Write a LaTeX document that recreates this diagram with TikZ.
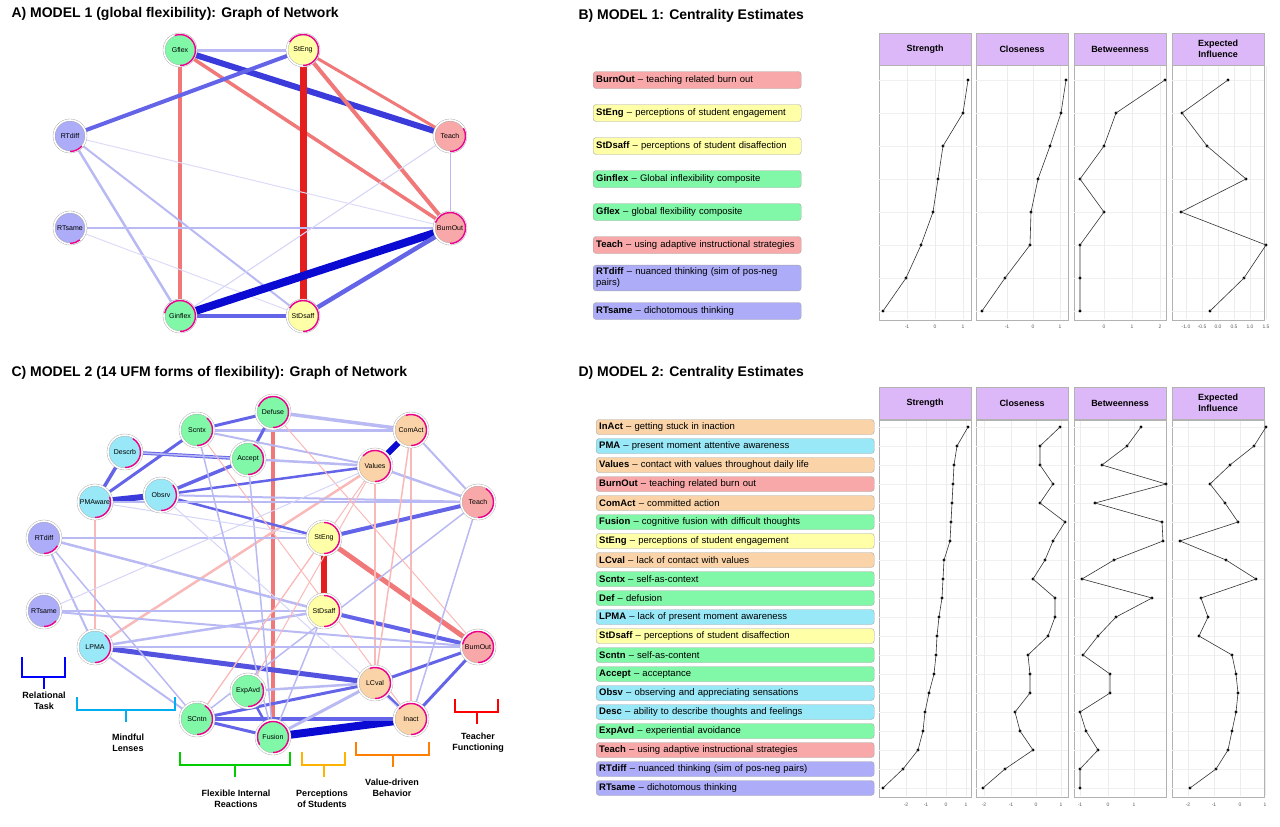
\documentclass[tikz,border=0pt]{standalone}
\usepackage{fontspec}
\setmainfont{Liberation Sans}
\usetikzlibrary{backgrounds}
\definecolor{cred}{RGB}{248,168,168}
\definecolor{cyel}{RGB}{255,255,168}
\definecolor{cgrn}{RGB}{128,248,168}
\definecolor{clav}{RGB}{172,172,248}
\definecolor{ccya}{RGB}{152,232,248}
\definecolor{corg}{RGB}{250,212,168}
\definecolor{chead}{RGB}{221,184,248}
\definecolor{bdark}{RGB}{10,10,210}
\definecolor{bmed}{RGB}{100,100,232}
\definecolor{blight}{RGB}{185,185,244}
\definecolor{rdark}{RGB}{228,30,30}
\definecolor{rmed}{RGB}{240,120,120}
\definecolor{rlight}{RGB}{250,185,185}
\tikzset{
  var/.style={circle, minimum size=32pt, inner sep=0pt, draw=gray!70, double=white, double distance=1.6pt, font=\fontsize{7}{8}\selectfont},
  edge/.style={line width=#1},
  title/.style={anchor=west, font=\bfseries\fontsize{14}{16}\selectfont},
  lbl/.style={rounded corners=3pt, draw=gray!70, anchor=west, minimum height=17pt, inner sep=3pt, font=\fontsize{9.5}{11}\selectfont},
  head/.style={draw=gray!60, fill=chead, font=\bfseries\fontsize{9}{10.5}\selectfont, align=center},
  prof/.style={black!80, line width=0.6pt},
  tick/.style={font=\fontsize{5}{6}\selectfont, text=gray!70!black},
  grp/.style={font=\bfseries\fontsize{9}{11}\selectfont, align=center}
}
\newcommand{\profile}[4]{%
  \foreach \x [count=\i from 0] in {#4} {\coordinate (p\i) at (\x,#2+#3*\i); \fill (p\i) circle (1.7);}
  \draw[prof] (p0) \foreach \i in {1,...,#1} {-- (p\i)};}
\newcommand{\grpbrace}[5]{% x1, x2, top, mid, colour
  \draw[#5, line width=2pt] (#1,#3) -- (#1,#4) -- (#2,#4) -- (#2,#3)
    ({(#1+#2)/2},#4) -- ++(0,12);}
\begin{document}
\begin{tikzpicture}[x=1pt, y=-1pt]
\useasboundingbox (0,0) rectangle (1280,827);

% ---- A) model 1 network
\node[title] (tA) at (8,14) {A) MODEL 1 (global flexibility): Graph of Network};
\node[var, fill=cgrn] (Gflex) at (180,50) {Gflex};
\node[var, fill=cyel] (StEng) at (303,50) {StEng};
\node[var, fill=clav] (RTdiff) at (70,136) {RTdiff};
\node[var, fill=cred] (Teach) at (450,136) {Teach};
\node[var, fill=clav] (RTsame) at (70,228) {RTsame};
\node[var, fill=cred] (BurnOut) at (450,228) {BurnOut};
\node[var, fill=cgrn] (Ginflex) at (180,316) {Ginflex};
\node[var, fill=cyel] (StDsaff) at (303,316) {StDsaff};
\begin{pgfonlayer}{background}
  \foreach \a/\b/\c/\w in {Gflex/StEng/blight/3, Gflex/Teach/bdark!80!white/6, Gflex/Ginflex/rmed/4,
      Gflex/BurnOut/rmed/3.5, StEng/StDsaff/rdark/7, StEng/Teach/rmed/3, StEng/BurnOut/rmed/4,
      StEng/RTdiff/bmed/4, RTdiff/Ginflex/blight/2.5, RTdiff/StDsaff/blight/2, RTsame/BurnOut/blight/2.5,
      RTsame/StDsaff/blight!50/1, Ginflex/BurnOut/bdark/8, Ginflex/StDsaff/bmed/3.5, StDsaff/BurnOut/bmed/4.5,
      Teach/BurnOut/blight/1, Teach/Ginflex/blight!60/1, RTdiff/BurnOut/blight!50/1}
    \draw[\c, edge=\w pt] (\a) -- (\b);
\end{pgfonlayer}

% ---- C) model 2 network
\node[title] (tC) at (8,373) {C) MODEL 2 (14 UFM forms of flexibility): Graph of Network};
\foreach \n/\x/\y/\c in {Defuse/273/412/cgrn, Scntx/197/430/cgrn, ComAct/411/430/corg, Descrb/125/452/ccya,
    Accept/248/459/cgrn, Values/375/466/corg, PMAware/95/502/ccya, Obsrv/161/495/ccya, Teach2/478/502/cred,
    RTdiff2/44/538/clav, StEng2/324/538/cyel, RTsame2/44/611/clav, StDsaff2/324/611/cyel, LPMA/95/647/ccya,
    BurnOut2/478/647/cred, LCval/375/683/corg, ExpAvd/248/691/cgrn, SCntn/197/719/cgrn, Inact/411/719/corg,
    Fusion/273/737/cgrn}
  \node[var, fill=\c, minimum size=34pt] (\n) at (\x,\y) {};
\foreach \n/\t in {Defuse/Defuse, Scntx/Scntx, ComAct/ComAct, Descrb/Descrb, Accept/Accept, Values/Values,
    PMAware/PMAware, Obsrv/Obsrv, Teach2/Teach, RTdiff2/RTdiff, StEng2/StEng, RTsame2/RTsame, StDsaff2/StDsaff,
    LPMA/LPMA, BurnOut2/BurnOut, LCval/LCval, ExpAvd/ExpAvd, SCntn/SCntn, Inact/Inact, Fusion/Fusion}
  \node[font=\fontsize{7}{8}\selectfont] at (\n) {\t};
\begin{pgfonlayer}{background}
  \foreach \a/\b/\c/\w in {Fusion/Inact/bdark/8, ComAct/Values/bdark/6, PMAware/Obsrv/bdark!80!white/6,
      Defuse/Fusion/rmed/4, StEng2/StDsaff2/rdark/6, StEng2/BurnOut2/rmed/5, StEng2/Teach2/bmed/4,
      StDsaff2/BurnOut2/bmed/4, LPMA/LCval/bdark!70!white/5, SCntn/Inact/bmed/4, LPMA/Values/rlight/2.5,
      PMAware/LPMA/rlight/2.5, Values/LCval/rlight/2.5, ComAct/Inact/rlight/2.5, RTdiff2/StEng2/blight/2.5,
      RTdiff2/StDsaff2/blight/2.5, Descrb/Accept/bmed/3.5, Descrb/PMAware/bmed/3.5, Scntx/PMAware/bmed/3,
      Obsrv/Accept/bmed/3.5, Obsrv/Values/bmed/2.5, Defuse/ComAct/blight/3.5, Scntx/ComAct/blight/3,
      Defuse/Accept/bmed/3, Scntx/Defuse/bmed/3, LPMA/StDsaff2/blight/2.5, LCval/BurnOut2/bmed/3,
      Inact/BurnOut2/bmed/3, LCval/Inact/bmed/3, SCntn/LCval/bmed/3, ExpAvd/LCval/blight/2.5,
      Teach2/Values/blight/2.5, Teach2/ComAct/blight/2, Obsrv/StEng2/bmed/2.5, RTdiff2/LPMA/blight/2,
      RTsame2/BurnOut2/blight/2, LPMA/BurnOut2/blight/2, SCntn/Fusion/bmed/3, LPMA/SCntn/blight/2,
      PMAware/Teach2/blight/2, Obsrv/Teach2/blight/2, Scntx/Values/blight/2, Accept/Values/blight/2.5,
      Fusion/LCval/blight/3, ExpAvd/Fusion/bmed/2.5, Teach2/SCntn/blight/1.5, StDsaff2/Fusion/blight/1.5,
      RTdiff2/SCntn/blight/1.5, RTsame2/StDsaff2/blight/1.5, Defuse/BurnOut2/rlight/1, Scntx/Inact/rlight/1,
      Values/SCntn/rlight/1, ComAct/LCval/rlight/1.5, Accept/Fusion/blight/1.5, Descrb/Values/blight/1.5,
      RTsame2/Values/blight!60/1, Obsrv/Inact/blight!60/1, Scntx/Fusion/blight/1.5, ExpAvd/Values/rlight/1,
      StEng2/SCntn/rlight/1, Teach2/Inact/blight/1.5, PMAware/StEng2/blight!60/1}
    \draw[\c, edge=\w pt] (\a) -- (\b);
\end{pgfonlayer}
% magenta rings
\foreach \n/\a in {Defuse/250, Scntx/140, ComAct/200, Descrb/150, Accept/160, Values/230, PMAware/110,
    Obsrv/130, Teach2/150, RTdiff2/60, StEng2/180, RTsame2/50, StDsaff2/180, LPMA/140, BurnOut2/260,
    LCval/200, ExpAvd/120, SCntn/150, Inact/230, Fusion/300,
    Gflex/200, StEng/240, RTdiff/50, Teach/120, RTsame/40, BurnOut/250, Ginflex/260, StDsaff/240}
  \draw[magenta, line width=1.4pt] (\n.center) ++(90:15.5) arc[start angle=90, end angle=90-\a, radius=15.5];
% groups
\grpbrace{22}{65}{657}{677}{blue}
\node[grp] (gRT) at (44,701) {Relational\\Task};
\grpbrace{77}{175}{697}{710}{cyan}
\node[grp] (gML) at (128,743) {Mindful\\Lenses};
\grpbrace{180}{290}{752}{765}{green!80!black}
\node[grp] (gFI) at (236,799) {Flexible Internal\\Reactions};
\grpbrace{302}{345}{752}{765}{orange!60!yellow}
\node[grp] (gPS) at (322,799) {Perceptions\\of Students};
\grpbrace{356}{429}{742}{755}{orange}
\node[grp] (gVD) at (392,788) {Value-driven\\Behavior};
\grpbrace{455}{498}{699}{712}{red}
\node[grp] (gTF) at (478,743) {Teacher\\Functioning};

% ---- B) centrality model 1
\node[title] (tB) at (575,16) {B) MODEL 1: Centrality Estimates};
\foreach \xa/\xb/\t in {879/971/Strength, 976/1068/Closeness, 1074/1166/Betweenness, 1172/1264/{Expected\\Influence}} {
  \draw[gray!60, fill=white] (\xa,65) rectangle (\xb,320);
  \foreach \r in {0,...,7} \draw[gray!12] (\xa,80+33*\r) -- (\xb,80+33*\r);
  \node[head, minimum width=92pt, minimum height=32pt] at ({(\xa+\xb)/2},49) {\t};
  \draw[gray!60, fill=white] (\xa,420) rectangle (\xb,797);
  \foreach \r in {0,...,19} \draw[gray!12] (\xa,427+19*\r) -- (\xb,427+19*\r);
  \node[head, minimum width=92pt, minimum height=32pt] at ({(\xa+\xb)/2},403) {\t};
}
\foreach \x/\t in {907/-1, 935/0, 963/1, 1007/-1, 1033/0, 1060/1, 1104/0, 1132/1, 1160/2,
    1186/-1.0, 1202/-0.5, 1218/0.0, 1234/0.5, 1250/1.0, 1266/1.5} {
  \draw[gray!15] (\x,66) -- (\x,319);
  \node[tick] at (\x,327) {\t};}
\foreach \x/\t in {906/-2, 926/-1, 946/0, 966/1, 984/-2, 1011/-1, 1036/0, 1061/1, 1080/-1, 1108/0, 1134/1,
    1188/-2, 1214/-1, 1240/0, 1265/1} {
  \draw[gray!15] (\x,421) -- (\x,796);
  \node[tick] at (\x,805) {\t};}
\profile{7}{80}{33}{968,963,943,938,933,921,906,883}
\profile{7}{80}{33}{1066,1061,1050,1038,1031,1030,1005,982}
\profile{7}{80}{33}{1165,1116,1104,1080,1104,1080,1080,1080}
\profile{7}{80}{33}{1228,1182,1207,1246,1181,1266,1244,1210}
\foreach \t/\d/\c [count=\i from 0] in {BurnOut/teaching related burn out/cred, StEng/perceptions of student engagement/cyel,
    StDsaff/perceptions of student disaffection/cyel, Ginflex/Global inflexibility composite/cgrn,
    Gflex/global flexibility composite/cgrn, Teach/using adaptive instructional strategies/cred,
    RTdiff/nuanced thinking (sim of pos-neg pairs)/clav, RTsame/dichotomous thinking/clav}
  \node[lbl, fill=\c, minimum width=208pt, text width=202pt] (b\i) at (593,80+33*\i) {\textbf{\t} -- \d};

% ---- D) centrality model 2
\node[title] (tD) at (575,373) {D) MODEL 2: Centrality Estimates};
\profile{19}{427}{19}{968,957,954,953,952,951,950,944,943,942,939,937,936,934,929,925,923,918,903,883}
\profile{19}{427}{19}{1060,1040,1040,1053,1040,1065,1053,1045,1033,1055,1055,1048,1028,1030,1030,1015,1020,1033,1005,983}
\profile{19}{427}{19}{1141,1127,1102,1166,1095,1162,1163,1114,1082,1152,1116,1098,1083,1110,1110,1080,1086,1098,1080,1080}
\profile{19}{427}{19}{1266,1254,1230,1210,1225,1238,1180,1226,1256,1201,1208,1199,1232,1236,1238,1236,1232,1228,1216,1190}
\foreach \t/\d/\c [count=\i from 0] in {InAct/getting stuck in inaction/corg, PMA/present moment attentive awareness/ccya,
    Values/contact with values throughout daily life/corg, BurnOut/teaching related burn out/cred,
    ComAct/committed action/corg, Fusion/cognitive fusion with difficult thoughts/cgrn,
    StEng/perceptions of student engagement/cyel, LCval/lack of contact with values/corg,
    Scntx/self-as-context/cgrn, Def/defusion/cgrn, LPMA/lack of present moment awareness/ccya,
    StDsaff/perceptions of student disaffection/cyel, Scntn/self-as-content/cgrn, Accept/acceptance/cgrn,
    Obsv/observing and appreciating sensations/ccya, Desc/ability to describe thoughts and feelings/ccya,
    ExpAvd/experiential avoidance/cgrn, Teach/using adaptive instructional strategies/cred,
    RTdiff/nuanced thinking (sim of pos-neg pairs)/clav, RTsame/dichotomous thinking/clav}
  \node[lbl, fill=\c, minimum width=278pt, text width=272pt, minimum height=15pt, inner sep=2pt] (d\i) at (596,427+19*\i) {\textbf{\t} -- \d};
\end{tikzpicture}
\end{document}
